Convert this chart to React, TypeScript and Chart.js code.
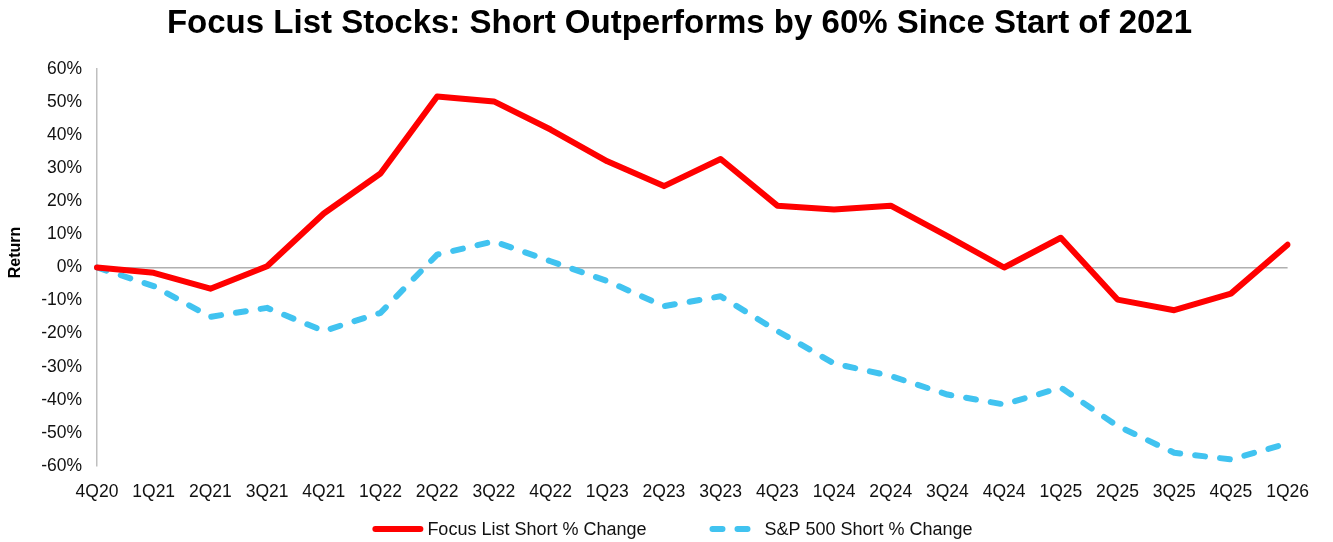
import React, { useEffect, useRef } from "react";
import { Chart, registerables } from "chart.js";

Chart.register(...registerables);

const categories = ["4Q20", "1Q21", "2Q21", "3Q21", "4Q21", "1Q22", "2Q22", "3Q22", "4Q22", "1Q23", "2Q23", "3Q23", "4Q23", "1Q24", "2Q24", "3Q24", "4Q24", "1Q25", "2Q25", "3Q25", "4Q25", "1Q26"];
const focusListShort = [0, -1.6, -6.4, 0.4, 16.3, 28.4, 51.7, 50.2, 41.7, 32.1, 24.6, 32.8, 18.7, 17.5, 18.7, 9.5, 0, 9.0, -9.7, -12.9, -7.9, 6.9];
const sp500Short = [0, -5.6, -14.9, -12.2, -19.2, -13.7, 3.9, 7.9, 1.9, -4.1, -11.7, -8.7, -19.2, -29.0, -32.8, -38.4, -41.4, -36.3, -47.9, -56.0, -58.0, -53.2];
const seriesNames = ["Focus List Short % Change", "S&P 500 Short % Change"];
const titleText = "Focus List Stocks: Short Outperforms by 60% Since Start of 2021";
const yTitle = "Return";

const FONT = "'Liberation Sans', Arial, sans-serif";
const RED = "#ff0000";
const BLUE = "#41c3f0";

const titlePlugin = {
  id: "customTitle",
  afterDraw(chart: any) {
    const ctx = chart.ctx;
    ctx.save();
    ctx.font = `bold 33px ${FONT}`;
    ctx.fillStyle = "#000";
    ctx.textAlign = "center";
    ctx.textBaseline = "alphabetic";
    ctx.fillText(titleText, chart.width / 2 + 13, 25);
    // y axis title
    ctx.font = `bold 16px ${FONT}`;
    ctx.textBaseline = "middle";
    ctx.translate(8, chart.chartArea.top + (chart.chartArea.bottom - chart.chartArea.top) / 2 - 15);
    ctx.rotate(-Math.PI / 2);
    ctx.fillText(yTitle, 0, 0);
    ctx.restore();
  },
};

const legendPlugin = {
  id: "customLegend",
  afterDraw(chart: any) {
    const ctx = chart.ctx;
    ctx.save();
    ctx.font = `18px ${FONT}`;
    ctx.textBaseline = "middle";
    ctx.textAlign = "left";
    const swatchW = 51;
    const gap = 4;
    const itemGap = 63;
    const items = chart.data.datasets.map((ds: any) => ({
      label: ds.label,
      color: ds.borderColor,
      dash: ds.borderDash || [],
      w: ctx.measureText(ds.label).width,
    }));
    const total = items.reduce((s: number, it: any) => s + swatchW + gap + it.w, 0) + itemGap * (items.length - 1);
    let x = chart.width / 2 - total / 2 + 6;
    const y = 521;
    items.forEach((it: any) => {
      ctx.beginPath();
      ctx.strokeStyle = it.color;
      ctx.lineWidth = 6;
      ctx.lineCap = "round";
      ctx.setLineDash(it.dash);
      ctx.moveTo(x + 3, y);
      ctx.lineTo(x + swatchW - 3, y);
      ctx.stroke();
      ctx.setLineDash([]);
      ctx.fillStyle = "#111";
      ctx.fillText(it.label, x + swatchW + gap, y + 1);
      x += swatchW + gap + it.w + itemGap;
    });
    ctx.restore();
  },
};

export default function App() {
  const ref = useRef<HTMLCanvasElement | null>(null);
  useEffect(() => {
    if (!ref.current) return;
    const chart = new Chart(ref.current, {
      type: "line",
      data: {
        labels: categories,
        datasets: [
          {
            label: seriesNames[0],
            data: focusListShort,
            borderColor: RED,
            backgroundColor: RED,
            borderWidth: 6,
            pointRadius: 0,
            borderJoinStyle: "round",
            borderCapStyle: "round",
            tension: 0,
          },
          {
            label: seriesNames[1],
            data: sp500Short,
            borderColor: BLUE,
            backgroundColor: BLUE,
            borderWidth: 6,
            borderDash: [10, 15],
            pointRadius: 0,
            borderJoinStyle: "round",
            borderCapStyle: "round",
            tension: 0,
          },
        ],
      },
      options: {
        animation: false,
        responsive: true,
        maintainAspectRatio: false,
        layout: { padding: { left: 0, right: 28, top: 61, bottom: 0 } },
        plugins: {
          legend: { display: false },
          tooltip: { enabled: false },
          title: { display: false },
        },
        scales: {
          x: {
            offset: false,
            grid: { display: false, drawTicks: false },
            border: { display: false },
            ticks: {
              color: "#111",
              font: { family: FONT, size: 17.5 },
              padding: 16,
              maxRotation: 0,
              autoSkip: false,
            },
            afterFit: (s: any) => {
              s.height = 76;
            },
          },
          y: {
            min: -60,
            max: 60,
            grid: {
              drawTicks: false,
              lineWidth: 1.5,
              color: (c: any) => (c.tick && c.tick.value === 0 ? "#b0b0b0" : "rgba(0,0,0,0)"),
            },
            border: { display: true, color: "#bfbfbf", width: 1.5 },
            ticks: {
              stepSize: 10,
              color: "#111",
              font: { family: FONT, size: 17.5 },
              padding: 15,
              callback: (v: any) => `${v}%`,
            },
            title: { display: false },
            afterFit: (s: any) => {
              s.width = 89;
            },
          },
        },
      },
      plugins: [titlePlugin, legendPlugin],
    });
    return () => chart.destroy();
  }, []);
  return (
    <div style={{ width: 1317, height: 534, position: "relative" }}>
      <canvas ref={ref} />
    </div>
  );
}
